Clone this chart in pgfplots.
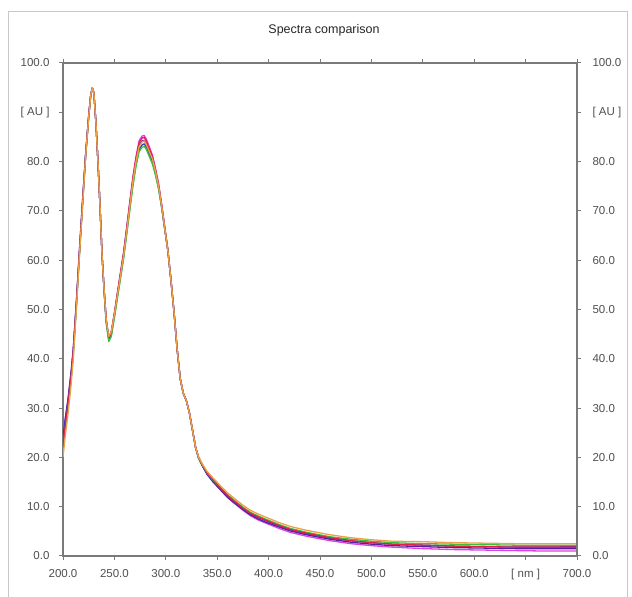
\documentclass[border=0pt]{standalone}
\usepackage{fontspec}
\setmainfont{Liberation Sans}
\usepackage{pgfplots}
\usepackage{pgfplotstable}
\pgfplotsset{compat=1.18}

\definecolor{frame}{HTML}{C8C8C8}
\definecolor{axgray}{HTML}{7A7A7A}
\definecolor{lbl}{HTML}{505050}
\definecolor{cor}{HTML}{EBA04A}
\definecolor{crd}{HTML}{E0204A}
\definecolor{cmg}{HTML}{E040E0}
\definecolor{cpu}{HTML}{5A1E9E}
\definecolor{cbl}{HTML}{3040C0}
\definecolor{cgr}{HTML}{3CC03C}

% nm, orange, red, magenta, purple, blue, green
\pgfplotstableread{
nm    or    rd    mg    pu    bl    gr
200   20.0  22.0  23.5  24.0  23.0  21.5
202   24.0  26.0  27.5  27.5  27.0  25.5
205   29.0  31.0  32.0  32.0  31.5  30.5
208   35.0  36.5  37.5  37.5  37.0  36.0
210   40.0  41.5  42.0  42.0  41.5  40.5
213   50.0  51.0  51.5  51.5  51.0  50.5
216   61.0  61.5  62.0  62.0  61.5  61.0
219   71.0  71.5  72.0  72.0  71.5  71.0
222   81.0  81.2  81.5  81.5  81.2  81.0
225   89.0  89.2  89.3  89.3  89.2  89.0
227   93.5  93.5  93.5  93.5  93.5  93.5
228.5 95.0  95.0  94.9  94.9  94.9  94.8
230   94.0  94.0  94.0  94.0  94.0  94.0
232   88.0  88.0  88.0  88.0  88.0  88.0
234   80.0  80.0  80.0  80.0  80.0  80.0
236   71.0  71.0  71.0  71.0  71.0  71.0
238   61.0  61.0  61.0  61.0  61.0  61.0
240   54.0  54.0  54.0  54.0  53.8  53.6
242   48.0  48.0  48.0  48.0  47.5  47.2
244.5 44.5  44.3  44.3  44.2  44.0  43.5
247   45.5  45.5  45.5  45.3  45.0  44.5
250   49.0  49.2  49.3  49.0  48.7  48.2
253   53.0  53.3  53.5  53.2  52.8  52.3
256   57.0  57.4  57.6  57.3  56.8  56.3
259   61.0  61.5  61.7  61.3  60.8  60.3
262   66.0  66.5  66.8  66.3  65.7  65.2
265   71.0  71.6  71.9  71.3  70.6  70.1
268   76.0  76.6  76.9  76.2  75.5  75.0
271   80.0  80.7  81.0  80.2  79.5  79.0
274   83.0  83.8  84.2  83.2  82.4  82.0
277   84.0  84.8  85.2  84.2  83.4  82.9
279   84.2  84.9  85.3  84.3  83.6  83.1
281   83.5  84.2  84.6  83.6  83.0  82.5
284   82.0  82.6  83.0  82.0  81.5  81.0
287   80.5  81.0  81.3  80.4  80.0  79.5
290   78.0  78.4  78.6  77.9  77.5  77.2
293   75.0  75.3  75.5  74.9  74.6  74.4
296   71.0  71.2  71.3  70.9  70.7  70.6
299   66.5  66.6  66.7  66.4  66.3  66.2
302   62.0  62.0  62.0  62.0  62.0  62.0
305   56.0  56.0  56.0  56.0  56.0  56.0
308   49.5  49.5  49.5  49.5  49.5  49.5
311   42.0  42.0  42.0  42.0  42.0  42.0
314   36.0  36.0  36.0  36.0  36.0  36.0
317   33.0  33.0  33.0  33.0  33.0  33.0
320   31.5  31.5  31.5  31.5  31.5  31.5
323   29.0  29.0  29.0  29.0  29.0  29.0
326   25.5  25.5  25.5  25.5  25.5  25.5
329   22.0  22.0  22.0  22.0  22.0  22.0
332   20.0  20.0  19.8  19.8  19.8  19.7
336   18.5  18.4  18.2  18.1  18.2  18.3
340   17.2  17.0  16.7  16.6  16.7  16.9
346   15.8  15.5  15.1  15.0  15.2  15.4
352   14.5  14.1  13.7  13.7  13.8  14.1
360   12.8  12.3  11.9  11.9  12.1  12.4
366   11.8  11.2  10.8  10.9  11.1  11.4
375   10.3   9.7   9.3   9.4   9.6   9.9
382    9.3   8.7   8.2   8.4   8.6   8.9
390    8.5   7.9   7.3   7.5   7.8   8.1
398    7.8   7.2   6.6   6.8   7.1   7.4
410    6.8   6.2   5.6   5.9   6.1   6.4
421    6.0   5.4   4.8   5.1   5.3   5.6
435    5.3   4.7   4.1   4.4   4.6   4.9
447    4.8   4.2   3.6   3.9   4.1   4.4
460    4.3   3.7   3.1   3.4   3.6   3.9
480    3.7   3.1   2.5   2.8   3.1   3.4
500    3.3   2.7   2.1   2.4   2.7   3.0
520    3.0   2.4   1.8   2.1   2.4   2.7
550    2.9   2.2   1.5   1.9   2.2   2.5
580    2.7   2.0   1.3   1.7   2.0   2.4
610    2.6   1.9   1.2   1.6   1.9   2.3
640    2.5   1.8   1.1   1.5   1.8   2.2
670    2.5   1.8   1.0   1.5   1.8   2.2
700    2.5   1.8   1.0   1.5   1.9   2.2
}\spectra

\pgfplotsset{
  specaxis/.style={
    at={(63pt,41pt)}, anchor=south west,
    scale only axis, width=514pt, height=493pt,
    xmin=200, xmax=700, ymin=0, ymax=100,
    axis line style={axgray, line width=1.3pt},
    every tick/.style={axgray, line width=1pt},
    tick align=outside, major tick length=4pt,
    ytick={0,10,...,100},
    yticklabels={0.0,10.0,20.0,30.0,40.0,50.0,60.0,70.0,80.0,[ AU ],100.0},
    ticklabel style={font=\fontsize{11.5}{12}\selectfont, text=lbl},
    /pgf/number format/assume math mode=true,
  }
}

\begin{document}
\begin{tikzpicture}
\useasboundingbox (0,0) rectangle (632pt,597pt);
\fill[white] (0,0) rectangle (632pt,597pt);
\draw[frame, line width=1pt] (8.5pt,0) -- (8.5pt,585pt) -- (627.5pt,585pt) -- (627.5pt,0);
\node[font=\fontsize{12.5}{14}\selectfont, text=black!85] at (324pt,567pt) {Spectra comparison};

\begin{axis}[specaxis,
    xtick={200,250,...,700},
    xticklabels={200.0,250.0,300.0,350.0,400.0,450.0,500.0,550.0,600.0,{[ nm ]},700.0},
    xtick pos=both, xticklabel pos=bottom,
    ytick pos=left, yticklabel pos=left,
    xticklabel style={yshift=-6pt},
    yticklabel style={xshift=-6pt},
    every axis plot/.append style={line width=1.3pt, line join=round},
  ]
  \addplot[cmg] table[x=nm, y=mg] {\spectra};
  \addplot[cpu] table[x=nm, y=pu] {\spectra};
  \addplot[cbl] table[x=nm, y=bl] {\spectra};
  \addplot[cgr] table[x=nm, y=gr] {\spectra};
  \addplot[crd] table[x=nm, y=rd] {\spectra};
  \addplot[cor] table[x=nm, y=or] {\spectra};
\end{axis}

\begin{axis}[specaxis,
    axis y line*=right, axis x line=none,
    ytick pos=right, yticklabel pos=right,
    yticklabel style={xshift=8pt},
  ]
\end{axis}
\end{tikzpicture}
\end{document}
